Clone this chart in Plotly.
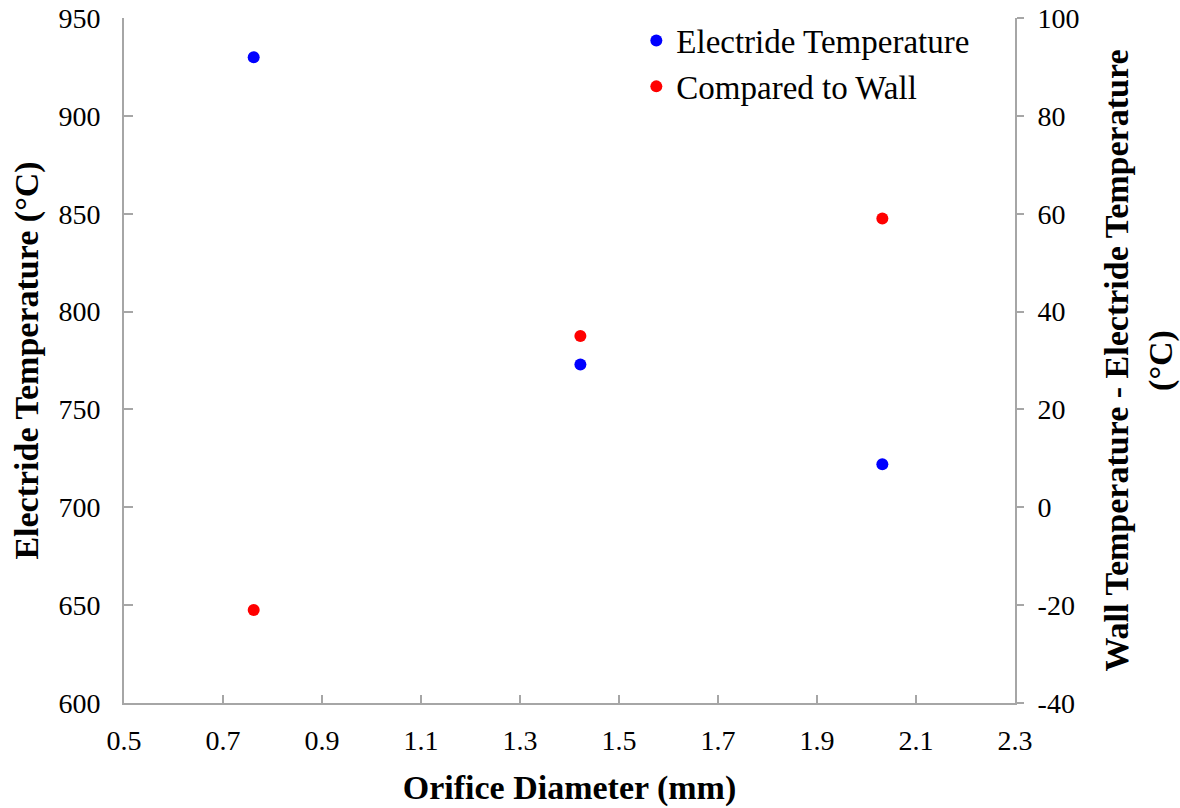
import plotly.graph_objects as go

# Orifice diameters (mm) and measured temperatures
orifice_mm = [0.762, 1.422, 2.032]
electride_temp_c = [930, 773, 722]
wall_minus_electride_c = [-21, 35, 59]

x_ticks = [0.5, 0.7, 0.9, 1.1, 1.3, 1.5, 1.7, 1.9, 2.1, 2.3]
y_ticks = [600, 650, 700, 750, 800, 850, 900, 950]
y2_ticks = [-40, -20, 0, 20, 40, 60, 80, 100]

FONT = "Liberation Serif, Times New Roman, serif"
AXIS_GREY = "#A6A6A6"

fig = go.Figure()

fig.add_trace(go.Scatter(
    x=orifice_mm, y=electride_temp_c, mode="markers",
    name="Electride Temperature",
    marker=dict(color="#0000FF", size=12),
    yaxis="y",
))
fig.add_trace(go.Scatter(
    x=orifice_mm, y=wall_minus_electride_c, mode="markers",
    name="Compared to Wall",
    marker=dict(color="#FF0000", size=12),
    yaxis="y2",
))

fig.update_layout(
    width=1180, height=808,
    margin=dict(l=124, r=165, t=18, b=105),
    paper_bgcolor="white", plot_bgcolor="white",
    font=dict(family=FONT, color="black", size=28),
    showlegend=True,
    legend=dict(
        x=0.575, y=1.008, xanchor="left", yanchor="top",
        bgcolor="rgba(0,0,0,0)", font=dict(size=33),
        itemsizing="constant", tracegroupgap=0,
    ),
    xaxis=dict(
        range=[0.5, 2.3], tickvals=x_ticks,
        ticktext=[f"{v:.1f}" for v in x_ticks],
        showline=True, linecolor=AXIS_GREY, linewidth=2,
        ticks="inside", ticklen=8, tickcolor=AXIS_GREY, tickwidth=2,
        showgrid=False, zeroline=False, automargin=False,
        tickfont=dict(size=28), ticklabelstandoff=11,
        title=dict(text="<b>Orifice Diameter (mm)</b>", font=dict(size=34), standoff=21),
    ),
    yaxis=dict(
        range=[600, 950], tickvals=y_ticks,
        ticktext=[str(v) for v in y_ticks],
        showline=True, linecolor=AXIS_GREY, linewidth=2,
        ticks="inside", ticklen=9, tickcolor=AXIS_GREY, tickwidth=2,
        showgrid=False, zeroline=False, automargin=False,
        tickfont=dict(size=28), ticklabelstandoff=16,
        title=dict(text="<b>Electride Temperature (°C)</b>", font=dict(size=34), standoff=10),
    ),
    yaxis2=dict(
        range=[-40, 100], tickvals=y2_ticks,
        ticktext=[str(v) for v in y2_ticks],
        overlaying="y", side="right",
        showline=True, linecolor=AXIS_GREY, linewidth=2,
        ticks="outside", ticklen=7, tickcolor=AXIS_GREY, tickwidth=2,
        showgrid=False, zeroline=False, automargin=False,
        tickfont=dict(size=28), ticklabelstandoff=8,
        title=dict(text="<b>Wall Temperature - Electride Temperature<br>(°C)</b>",
                   font=dict(size=34), standoff=26),
    ),
)

fig.write_html("out.html")
